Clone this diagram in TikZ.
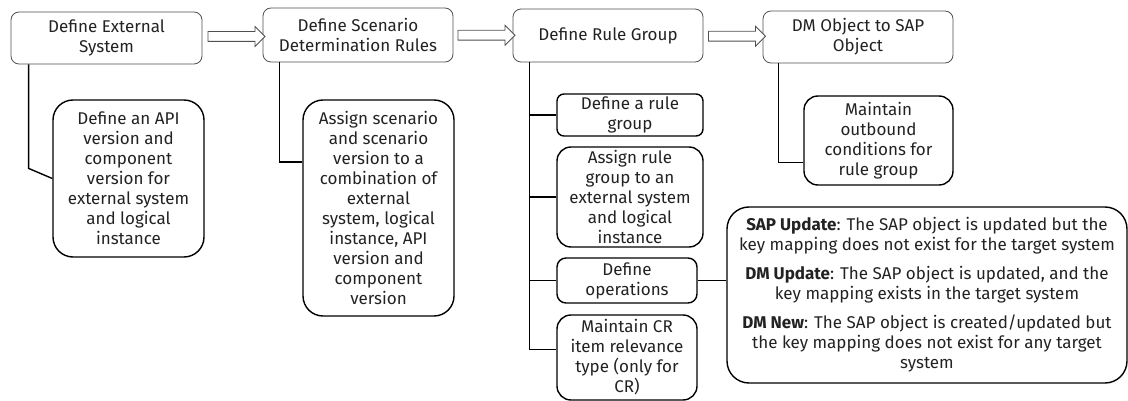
\documentclass[tikz,border=0pt]{standalone}
\usepackage{fontspec}
\setmainfont{Fira Sans}
\usepackage{tikz}
\usetikzlibrary{arrows,calc,positioning,shapes}
\definecolor{my_black}{RGB}{34, 34, 34}
\definecolor{my_gray}{RGB}{80, 80, 80}
\tikzset{
  stepnode/.style = {align=center, inner sep=0pt, text=my_black, font=\fontsize{17}{20}\selectfont},
  top_box/.style = {stepnode, draw=my_gray, line width=0.8pt, rounded corners=8pt,
  minimum width=190pt, minimum height=53pt},
  sub_box/.style = {stepnode, draw=black, line width=1.4pt, rounded corners=14pt},
  blk_arrow/.style = {single arrow, draw=my_gray, fill=white, line width=0.8pt, inner xsep=0pt,
  inner ysep=4.5pt, minimum height=57pt, single arrow head extend=5pt}
}

\begin{document}
\begin{tikzpicture}[x=1pt,y=-1pt,
            conn/.style={draw=black, line width=1.4pt}]
  \useasboundingbox (0,0) rectangle (1128,401);
  % main steps
  \node [top_box, minimum width=191pt, minimum height=52pt] (ext) at (106.5,38) {Define External\\System};
  \node [top_box, minimum height=54pt] (scen) at (358,35) {Define Scenario\\Determination Rules};
  \node [top_box] (rgrp) at (608,35.5) {Define Rule Group};
  \node [top_box, minimum height=52pt] (dmobj) at (858,37) {DM Object to SAP\\Object};
  \node [blk_arrow] (a1) at ([xshift=1.5pt]$(ext.east)!0.5!(scen.west)$) {};
  \node [blk_arrow] (a2) at ([xshift=1pt]$(scen.east)!0.5!(rgrp.west)$) {};
  \node [blk_arrow] (a3) at ([xshift=1.5pt]$(rgrp.east)!0.5!(dmobj.west)$) {};
  % sub steps
  \node [sub_box, minimum width=151pt, minimum height=157pt, rounded corners=20pt] (apiver) at (128.5,178.5)
    {Define an API\\version and\\component\\version for\\external system\\and logical\\instance};
  \node [sub_box, minimum width=151pt, minimum height=216pt, rounded corners=20pt] (assign) at (378.5,208)
    {Assign scenario\\and scenario\\version to a\\combination of\\external\\system, logical\\instance, API\\version and\\component\\version};
  \node [sub_box, minimum width=146pt, minimum height=42pt, rounded corners=7pt] (defrg) at (630,115)
    {Define a rule\\group};
  \node [sub_box, minimum width=146pt, minimum height=100pt] (assignrg) at (630,197)
    {Assign rule\\group to an\\external system\\and logical\\instance};
  \node [sub_box, minimum width=140pt, minimum height=45pt, rounded corners=9pt] (defops) at (627,280.5)
    {Define\\operations};
  \node [sub_box, minimum width=140pt, minimum height=85pt] (crrel) at (627,357.5)
    {Maintain CR\\item relevance\\type (only for\\CR)};
  \node [sub_box, minimum width=149pt, minimum height=89pt] (outb) at (878.5,140.5)
    {Maintain\\outbound\\conditions for\\rule group};
  \node [sub_box, minimum width=400pt, minimum height=176pt, rounded corners=22pt] (ops) at (927,295)
    {\textbf{SAP Update}: The SAP object is updated but the\\key mapping does not exist for the target system\\[9pt]
     \textbf{DM Update}: The SAP object is updated, and the\\key mapping exists in the target system\\[9pt]
     \textbf{DM New}: The SAP object is created/updated but\\the key mapping does not exist for any target\\system};
  % connectors
  \draw [conn] ([xshift=18pt]ext.south west) -- ++(0,104) -- (apiver.west);
  \draw [conn] ([xshift=17pt]scen.south west) |- ([yshift=46pt]assign.west);
  \coordinate (trunk) at ([xshift=17pt]rgrp.south west);
  \draw [conn] (trunk) |- ([yshift=8pt]crrel.west);
  \foreach \n in {defrg,assignrg,defops}
    \draw [conn] (\n.west) -- (\n.west -| trunk);
  \draw [conn] ([xshift=16pt]dmobj.south west) |- ([yshift=-22pt]outb.west);
  \draw [conn] (defops.east) -- (defops.east -| ops.west);
\end{tikzpicture}
\end{document}
